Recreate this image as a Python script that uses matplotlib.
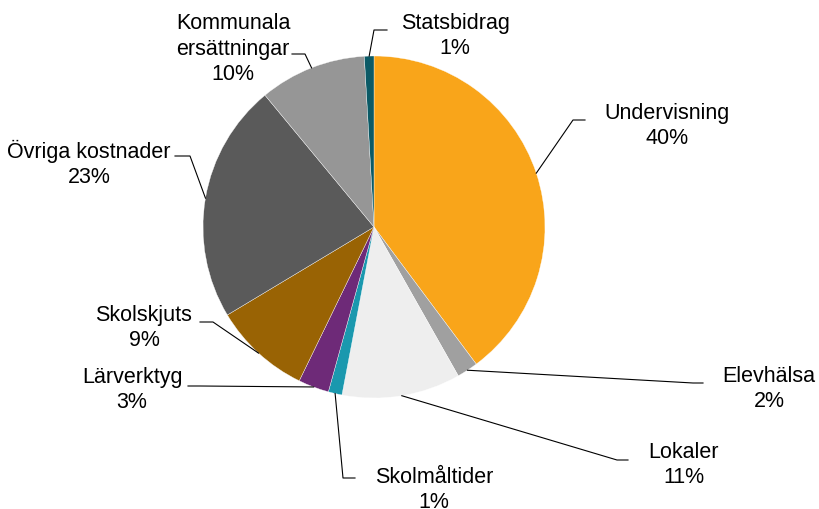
import matplotlib.pyplot as plt
import numpy as np

plt.rcParams["font.family"] = ["Liberation Sans", "DejaVu Sans"]

categories = [
    "Undervisning",
    "Elevhälsa",
    "Lokaler",
    "Skolmåltider",
    "Lärverktyg",
    "Skolskjuts",
    "Övriga kostnader",
    "Kommunala\nersättningar",
    "Statsbidrag",
]
shares = [39.8, 2.0, 11.2, 1.3, 2.9, 9.2, 22.6, 10.1, 0.9]
colors = [
    "#F9A51A",
    "#A0A0A0",
    "#EEEEEE",
    "#1A98AE",
    "#6E2A78",
    "#996304",
    "#5A5A5A",
    "#969696",
    "#0B5A66",
]

W, H = 819, 509


def px(x, y):
    # pixel position (top-left origin) -> axes data coords
    return x, H - y


# label layout in pixels: elbow of the leader, end of its short tail, text centre
label_layout = [
    ((573, 120), (585, 120), (667, 126)),
    ((693, 383), (703, 383), (769, 389)),
    ((617, 460), (628, 460), (684, 465)),
    ((343, 478), (355, 478), (434, 490)),
    ((200, 386), (188, 386), (132, 390)),
    ((213, 322), (200, 322), (144, 328)),
    ((190, 156), (175, 156), (89, 164)),
    ((305, 54), (292, 54), (233, 49)),
    ((374, 30), (387, 30), (455, 36)),
]

fig = plt.figure(figsize=(W / 100, H / 100), dpi=100)
ax = fig.add_axes([0, 0, 1, 1])

center = px(374, 227)
radius = 171
wedges, _ = ax.pie(
    shares,
    colors=colors,
    startangle=90,
    counterclock=False,
    center=center,
    radius=radius,
    wedgeprops={"edgecolor": "white", "linewidth": 0.25},
)
ax.set_xlim(0, W)
ax.set_ylim(0, H)
ax.set_aspect("equal")
ax.axis("off")

for wedge, name, value, (elbow, end, text_pos) in zip(wedges, categories, shares, label_layout):
    mid = np.deg2rad((wedge.theta1 + wedge.theta2) / 2)
    anchor = (center[0] + radius * np.cos(mid), center[1] + radius * np.sin(mid))
    ex, ey = px(*elbow)
    tx, ty = px(*end)
    ax.plot([anchor[0], ex, tx], [anchor[1], ey, ty], color="black", linewidth=0.8)
    lx, ly = px(*text_pos)
    ax.text(lx, ly, f"{name}\n{round(value)}%", ha="center", va="center",
            multialignment="center", fontsize=15.5, color="black", linespacing=1.3)

fig.savefig("out.png", dpi=100)
